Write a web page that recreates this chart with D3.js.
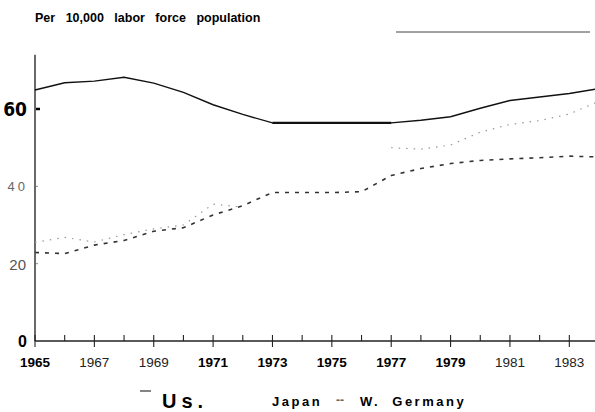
<!DOCTYPE html>
<html>
<head>
<meta charset="utf-8">
<script src="https://cdn.jsdelivr.net/npm/d3@7"></script>
<style>
  body { margin: 0; background: #fff; }
  svg { display: block; font-family: "Liberation Sans", Arial, sans-serif; }
</style>
</head>
<body>
<div id="chart"></div>
<script>
// years on the x axis
var years = [1965, 1966, 1967, 1968, 1969, 1970, 1971, 1972, 1973, 1974,
             1975, 1976, 1977, 1978, 1979, 1980, 1981, 1982, 1983, 1984];

// scientists and engineers per 10,000 labor force
var usValues = [64.9, 66.8, 67.2, 68.2, 66.7, 64.3, 61.1, 58.6, 56.4, 56.4,
                56.4, 56.4, 56.4, 57.1, 58.0, 60.2, 62.2, 63.1, 64.0, 65.3];
var japanValues = [25.5, 26.8, 25.6, 27.5, 29.0, 30.0, 35.4, 34.6, null, null,
                   null, null, 50.0, 49.6, 50.7, 54.0, 56.0, 57.0, 58.7, 62.0];
var germanyValues = [22.9, 22.6, 24.8, 26.0, 28.4, 29.3, 32.6, 35.0, 38.4, 38.4,
                     38.4, 38.6, 42.8, 44.6, 45.9, 46.7, 47.1, 47.4, 47.8, 47.6];

var yTickValues = [0, 20, 40, 60];
var xLabelYears = [1965, 1967, 1969, 1971, 1973, 1975, 1977, 1979, 1981, 1983];

var W = 595, H = 412;
var svg = d3.select("#chart").append("svg")
  .attr("width", W).attr("height", H);

// scales
var x = d3.scaleLinear().domain([1965, 1984]).range([35, 599]);
var y = d3.scaleLinear().domain([0, 60]).range([341, 109]);

// header
svg.append("text")
  .attr("x", 35).attr("y", 22)
  .attr("font-size", 12.5).attr("font-weight", "bold")
  .attr("word-spacing", 7)
  .text("Per 10,000 labor force population");

// stray rule at top right
svg.append("line")
  .attr("x1", 396).attr("x2", 590).attr("y1", 32).attr("y2", 32)
  .attr("stroke", "#444").attr("stroke-width", 1);

// y axis line
svg.append("line")
  .attr("x1", x(1965)).attr("x2", x(1965))
  .attr("y1", y(74)).attr("y2", y(0))
  .attr("stroke", "#444").attr("stroke-width", 1.6);

// x axis line
svg.append("line")
  .attr("x1", x(1965)).attr("x2", W)
  .attr("y1", y(0)).attr("y2", y(0))
  .attr("stroke", "#222").attr("stroke-width", 1.3);

// x ticks: odd years cross the axis, even years sit above it
svg.append("g").selectAll("line")
  .data(years.filter(function (d) { return d < 1984; }))
  .enter().append("line")
  .attr("x1", function (d) { return x(d); })
  .attr("x2", function (d) { return x(d); })
  .attr("y1", y(0) - 6)
  .attr("y2", function (d) { return d % 2 ? y(0) + 6 : y(0); })
  .attr("stroke", "#222").attr("stroke-width", 1.1);

// x labels
var boldYears = { 1965: 900, 1971: 700, 1973: 900, 1975: 900, 1977: 900, 1979: 900 };
svg.append("g").selectAll("text")
  .data(xLabelYears)
  .enter().append("text")
  .attr("x", function (d) { return x(d); })
  .attr("y", 367)
  .attr("text-anchor", "middle")
  .attr("font-size", 13.5)
  .attr("font-weight", function (d) { return boldYears[d] || 400; })
  .attr("fill", function (d) { return boldYears[d] ? "#000" : "#222"; })
  .text(function (d) { return d; });

// y ticks and labels
svg.append("g").selectAll("line")
  .data(yTickValues.filter(function (d) { return d > 0; }))
  .enter().append("line")
  .attr("x1", x(1965) + 1).attr("x2", function (d) { return d === 60 ? x(1965) + 5 : x(1965) + 3; })
  .attr("y1", function (d) { return y(d); }).attr("y2", function (d) { return y(d); })
  .attr("stroke", function (d) { return d === 60 ? "#000" : "#888"; })
  .attr("stroke-width", function (d) { return d === 60 ? 2.5 : 1; });

var yl = svg.append("g");
yl.append("text").attr("x", 27).attr("y", y(60) + 7)
  .attr("text-anchor", "end").attr("font-size", 19).attr("font-weight", "bold")
  .attr("font-family", "'Liberation Sans Narrow', 'DejaVu Sans Condensed', sans-serif")
  .text(yTickValues[3]);
yl.append("text").attr("x", 28).attr("y", y(40) + 5)
  .attr("text-anchor", "end").attr("font-size", 13).attr("fill", "#666")
  .attr("letter-spacing", 3)
  .text(yTickValues[2]);
yl.append("text").attr("x", 26).attr("y", y(20) + 6)
  .attr("text-anchor", "end").attr("font-size", 15).attr("fill", "#555")
  .text(yTickValues[1]);
yl.append("text").attr("x", 27).attr("y", y(0) + 6)
  .attr("text-anchor", "end").attr("font-size", 16).attr("font-weight", "bold")
  .text(yTickValues[0]);

// lines
var line = d3.line()
  .defined(function (d) { return d[1] != null; })
  .x(function (d) { return x(d[0]); })
  .y(function (d) { return y(d[1]); });

function pairs(vals) {
  return years.map(function (yr, i) { return [yr, vals[i]]; });
}

// W. Germany
svg.append("path")
  .datum(pairs(germanyValues))
  .attr("d", line)
  .attr("fill", "none").attr("stroke", "#333")
  .attr("stroke-width", 1.6).attr("stroke-dasharray", "4,6");

// Japan
svg.append("path")
  .datum(pairs(japanValues))
  .attr("d", line)
  .attr("fill", "none").attr("stroke", "#999")
  .attr("stroke-width", 1.2).attr("stroke-dasharray", "1.5,6");

// U.S.
svg.append("path")
  .datum(pairs(usValues))
  .attr("d", line)
  .attr("fill", "none").attr("stroke", "#111")
  .attr("stroke-width", 1.4);
// heavier flat segment 1973-1977
svg.append("path")
  .datum(pairs(usValues).filter(function (d) { return d[0] >= 1973 && d[0] <= 1977; }))
  .attr("d", line)
  .attr("fill", "none").attr("stroke", "#111")
  .attr("stroke-width", 2.4);

// legend
var lg = svg.append("g");
lg.append("line").attr("x1", 140).attr("x2", 151).attr("y1", 391).attr("y2", 391)
  .attr("stroke", "#333").attr("stroke-width", 1.2);
lg.append("text").attr("x", 162).attr("y", 408)
  .attr("font-size", 20).attr("font-weight", "bold").attr("letter-spacing", 5)
  .text("Us.");
lg.append("text").attr("x", 272).attr("y", 406)
  .attr("font-size", 13).attr("font-weight", "bold").attr("letter-spacing", 2.5)
  .text("Japan");
lg.append("text").attr("x", 336).attr("y", 404)
  .attr("font-size", 12).attr("font-weight", "bold").attr("fill", "#666")
  .text("--");
lg.append("text").attr("x", 360).attr("y", 406)
  .attr("font-size", 13).attr("font-weight", "bold").attr("letter-spacing", 2.5)
  .attr("word-spacing", 6)
  .text("W. Germany");
</script>
</body>
</html>
